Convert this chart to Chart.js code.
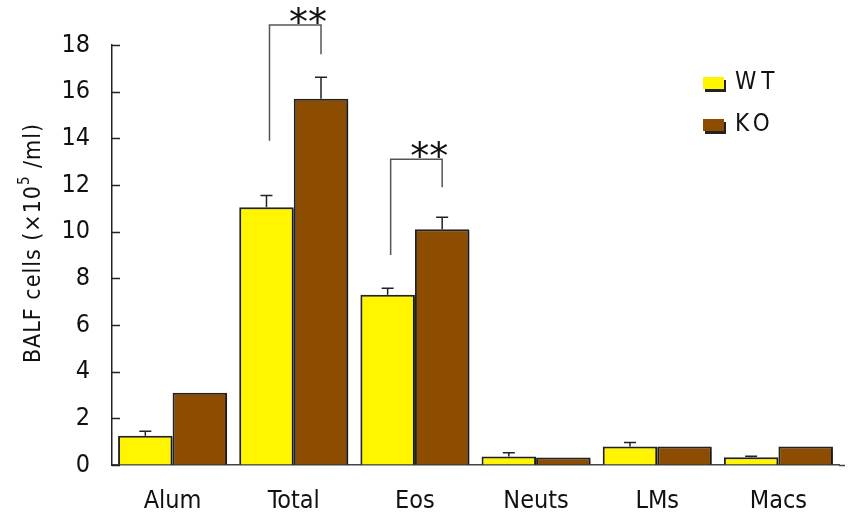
<!DOCTYPE html>
<html>
<head>
<meta charset="utf-8">
<script src="https://cdn.jsdelivr.net/npm/chart.js@4.4.1/dist/chart.umd.min.js"></script>
<style>
  html, body { margin: 0; padding: 0; background: #fff; }
  #wrap { width: 851px; height: 519px; }
</style>
</head>
<body>
<div id="wrap"><canvas id="chart" width="851" height="519"></canvas></div>
<script>
// BALF cell counts, WT vs KO
const categories = ['Alum', 'Total', 'Eos', 'Neuts', 'LMs', 'Macs'];
const seriesNames = ['WT', 'KO'];
const wtValues = [1.25, 11.05, 7.3, 0.36, 0.79, 0.33];
const koValues = [3.1, 15.7, 10.1, 0.32, 0.79, 0.79];
const wtErrors = [0.2, 0.5, 0.28, 0.17, 0.17, 0.05];
const koErrors = [0, 0.92, 0.52, 0, 0, 0];
const yMax = 18;
const yStep = 2;

// significance brackets (category index, left foot, right foot, top, in y units)
const sigCategories = [1, 2];
const sigLeftFrom = [13.9, 9.0];
const sigRightFrom = [17.6, 11.9];
const sigTop = [18.86, 13.1];
const sigLabels = ['**', '**'];

const FONT = '"Liberation Sans Narrow", "DejaVu Sans Condensed", "Roboto", sans-serif';
const YELLOW = '#fff500';
const BROWN = '#8c4d00';
const INK = '#222';

const extras = {
  id: 'extras',
  beforeDatasetsDraw(chart) {
    const ctx = chart.ctx;
    ctx.save();
    ctx.shadowColor = 'rgba(0,0,0,0.35)';
    ctx.shadowOffsetX = 2;
    ctx.shadowOffsetY = 2;
    ctx.shadowBlur = 2;
  },
  afterDatasetsDraw(chart) {
    const ctx = chart.ctx;
    ctx.restore();
    const y = chart.scales.y;
    const metas = [chart.getDatasetMeta(0), chart.getDatasetMeta(1)];
    const errs = [wtErrors, koErrors];
    ctx.save();
    ctx.strokeStyle = INK;
    ctx.lineWidth = 1.5;

    // x axis line runs a little past the last category
    const base = Math.round(y.getPixelForValue(0)) + 0.5;
    ctx.strokeStyle = '#444';
    ctx.beginPath();
    ctx.moveTo(chart.chartArea.right, base);
    ctx.lineTo(chart.chartArea.right + 6, base);
    ctx.stroke();
    ctx.strokeStyle = INK;

    // inward tick marks on y axis
    y.ticks.forEach(t => {
      const py = Math.round(y.getPixelForValue(t.value)) + 0.5;
      ctx.beginPath();
      ctx.moveTo(chart.chartArea.left, py);
      ctx.lineTo(chart.chartArea.left + 8, py);
      ctx.stroke();
    });

    // upper error bars
    metas.forEach((meta, d) => {
      const vals = chart.data.datasets[d].data;
      meta.data.forEach((bar, i) => {
        if (!errs[d][i]) return;
        const top = y.getPixelForValue(vals[i] + errs[d][i]);
        ctx.beginPath();
        ctx.moveTo(bar.x, bar.y);
        ctx.lineTo(bar.x, top);
        ctx.moveTo(bar.x - 6, top);
        ctx.lineTo(bar.x + 6, top);
        ctx.stroke();
      });
    });

    // significance brackets
    ctx.strokeStyle = '#555';
    sigCategories.forEach((c, k) => {
      const xl = metas[0].data[c].x + 3;
      const xr = metas[1].data[c].x;
      const yt = y.getPixelForValue(sigTop[k]);
      ctx.beginPath();
      ctx.moveTo(xl, y.getPixelForValue(sigLeftFrom[k]));
      ctx.lineTo(xl, yt);
      ctx.lineTo(xr, yt);
      ctx.lineTo(xr, y.getPixelForValue(sigRightFrom[k]));
      ctx.stroke();
      ctx.fillStyle = '#111';
      ctx.font = '38px "DejaVu Sans", sans-serif';
      ctx.textAlign = 'center';
      ctx.textBaseline = 'alphabetic';
      ctx.fillText(sigLabels[k], xr - 13, yt + 10);
    });

    // y axis title
    ctx.save();
    ctx.translate(34, 243);
    ctx.rotate(-Math.PI / 2);
    ctx.fillStyle = '#111';
    ctx.textBaseline = 'middle';
    if ('letterSpacing' in ctx) ctx.letterSpacing = '1px';
    const mainFont = '23px ' + FONT;
    const supFont = '15px ' + FONT;
    const partA = 'BALF cells (×10';
    const partB = '5';
    const partC = ' /ml)';
    ctx.font = mainFont;
    const wA = ctx.measureText(partA).width;
    const wC = ctx.measureText(partC).width;
    ctx.font = supFont;
    const wB = ctx.measureText(partB).width;
    let x0 = -(wA + wB + wC) / 2;
    ctx.textAlign = 'left';
    ctx.font = mainFont;
    ctx.fillText(partA, x0, 0);
    ctx.font = supFont;
    ctx.fillText(partB, x0 + wA, -9);
    ctx.font = mainFont;
    ctx.fillText(partC, x0 + wA + wB, 0);
    ctx.restore();

    // legend
    const colors = [YELLOW, BROWN];
    const ly = [77, 119];
    ctx.font = '24px ' + FONT;
    ctx.textAlign = 'left';
    ctx.textBaseline = 'middle';
    if ('letterSpacing' in ctx) ctx.letterSpacing = '5px';
    seriesNames.forEach((name, i) => {
      ctx.fillStyle = '#222';
      ctx.fillRect(705, ly[i] + 3, 21, 12);
      ctx.fillStyle = colors[i];
      ctx.fillRect(703, ly[i], 21, 12);
      ctx.fillStyle = '#111';
      ctx.fillText(name, 735, ly[i] + 6);
    });
    ctx.restore();
  }
};

new Chart(document.getElementById('chart'), {
  type: 'bar',
  data: {
    labels: categories,
    datasets: [
      { label: seriesNames[0], data: wtValues, backgroundColor: YELLOW, borderColor: INK, borderWidth: 2,
        categoryPercentage: 0.9, barPercentage: 1.0 },
      { label: seriesNames[1], data: koValues, backgroundColor: BROWN, borderColor: INK, borderWidth: 2,
        categoryPercentage: 0.9, barPercentage: 1.0 },
    ],
  },
  options: {
    responsive: false,
    animation: false,
    layout: { padding: { top: 45, right: 12, left: 0, bottom: 0 } },
    plugins: { legend: { display: false }, tooltip: { enabled: false } },
    scales: {
      x: {
        grid: { drawOnChartArea: false, drawTicks: false },
        border: { color: '#444', width: 1.5 },
        ticks: { color: '#111', padding: 21, font: { family: FONT, size: 25 } },
        afterFit: s => { s.height = 54; },
      },
      y: {
        min: 0,
        max: yMax,
        grid: { drawOnChartArea: false, drawTicks: false },
        border: { color: INK, width: 1.5 },
        ticks: { stepSize: yStep, color: '#111', padding: 22, font: { family: FONT, size: 25 } },
        afterFit: s => { s.width = 112; },
      },
    },
  },
  plugins: [extras],
});
</script>
</body>
</html>
